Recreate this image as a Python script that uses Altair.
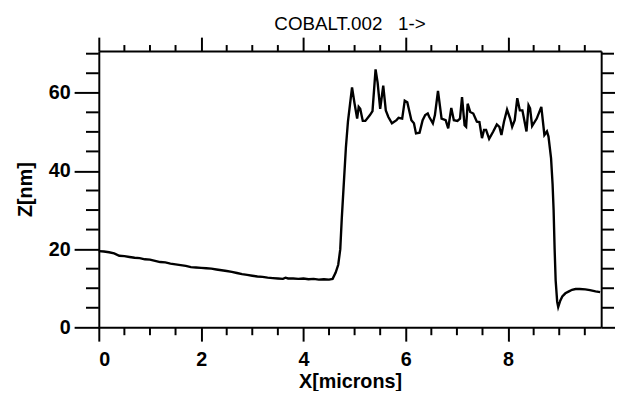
import altair as alt
import pandas as pd

# Profile
x_um = [0.00, 0.10, 0.20, 0.30, 0.40, 0.50, 0.60, 0.70, 0.80, 0.90,
        1.00, 1.10, 1.20, 1.30, 1.40, 1.50, 1.60, 1.70, 1.80, 1.90,
        2.00, 2.10, 2.20, 2.30, 2.40, 2.50, 2.60, 2.70, 2.80, 2.90,
        3.00, 3.10, 3.20, 3.30, 3.40, 3.50, 3.60, 3.65, 3.70, 3.80,
        3.90, 4.00, 4.10, 4.20, 4.30, 4.40, 4.50, 4.57, 4.63, 4.68,
        4.72, 4.75, 4.79, 4.83, 4.87, 4.91, 4.95, 5.00, 5.05, 5.08,
        5.11, 5.16, 5.21, 5.30, 5.35, 5.41, 5.45, 5.50, 5.56, 5.61,
        5.66, 5.73, 5.82, 5.86, 5.93, 5.98, 6.03, 6.11, 6.16, 6.20,
        6.27, 6.33, 6.38, 6.43, 6.46, 6.53, 6.57, 6.63, 6.70, 6.78,
        6.83, 6.89, 6.94, 7.01, 7.06, 7.10, 7.15, 7.18, 7.21, 7.26,
        7.32, 7.39, 7.44, 7.49, 7.53, 7.57, 7.63, 7.71, 7.78, 7.83,
        7.87, 7.92, 7.98, 8.04, 8.08, 8.13, 8.18, 8.23, 8.28, 8.36,
        8.40, 8.43, 8.47, 8.56, 8.65, 8.71, 8.76, 8.79, 8.84, 8.87,
        8.89, 8.91, 8.93, 8.96, 8.98, 9.02, 9.06, 9.12, 9.19, 9.25,
        9.32, 9.40, 9.51, 9.60, 9.71, 9.80]
z_nm = [19.5, 19.4, 19.2, 18.9, 18.3, 18.2, 18.0, 17.8, 17.7, 17.4,
        17.3, 17.0, 16.7, 16.6, 16.3, 16.1, 15.9, 15.7, 15.4, 15.3,
        15.2, 15.1, 15.0, 14.8, 14.6, 14.4, 14.2, 13.9, 13.6, 13.4,
        13.2, 13.0, 12.9, 12.7, 12.6, 12.5, 12.4, 12.7, 12.5, 12.5,
        12.4, 12.5, 12.3, 12.4, 12.2, 12.3, 12.2, 12.4, 14.0, 16.0,
        20.0, 28.0, 37.0, 46.0, 52.6, 57.0, 61.4, 57.2, 53.4, 56.4,
        55.9, 52.8, 52.8, 54.3, 55.3, 66.0, 62.6, 55.9, 61.8, 55.5,
        53.8, 52.2, 53.0, 53.6, 53.4, 58.0, 57.6, 53.0, 52.2, 49.6,
        49.8, 53.0, 54.3, 54.7, 53.8, 52.2, 54.3, 60.5, 53.4, 53.0,
        50.9, 56.1, 53.0, 52.8, 53.4, 58.9, 51.7, 51.3, 57.2, 55.1,
        54.7, 52.6, 52.5, 48.4, 50.5, 50.5, 48.2, 50.1, 51.9, 51.3,
        49.2, 52.6, 55.7, 53.4, 51.3, 53.0, 58.6, 55.5, 55.5, 50.1,
        56.8, 56.0, 51.5, 53.4, 56.4, 49.2, 50.1, 48.8, 43.3, 36.6,
        30.0, 20.0, 12.0, 6.5, 5.2, 6.8, 7.9, 8.7, 9.2, 9.6,
        9.8, 9.8, 9.7, 9.5, 9.2, 9.0]

x_major = [0, 2, 4, 6, 8]
x_minor = [0.5, 1.0, 1.5, 2.5, 3.0, 3.5, 4.5, 5.0, 5.5, 6.5, 7.0, 7.5, 8.5, 9.0, 9.5]
y_major = [0, 20, 40, 60]
y_minor = [5, 10, 15, 25, 30, 35, 45, 50, 55, 65, 70]

title_text = "COBALT.002\u00a0\u00a0\u00a01->"
x_title = "X[microns]"
y_title = "Z[nm]"

W, H = 509, 280
df = pd.DataFrame({"x": x_um, "z": z_nm})
xs = alt.Scale(domain=[0, 9.82], nice=False, zero=False)
ys = alt.Scale(domain=[0, 70.7], nice=False)

base = alt.Chart(df)

line_main = base.mark_line(color="black", strokeWidth=2.4).encode(
    x=alt.X("x:Q", scale=xs,
            axis=alt.Axis(orient="bottom", values=x_major, title=x_title,
                          tickSize=14, labelPadding=9, titlePadding=2)),
    y=alt.Y("z:Q", scale=ys,
            axis=alt.Axis(orient="left", values=y_major, title=y_title,
                          tickSize=25, labelPadding=4, titlePadding=13)),
)

line_frame = base.mark_line(opacity=0).encode(
    x=alt.X("x:Q", scale=xs,
            axis=alt.Axis(orient="top", values=x_major, labels=False,
                          title=None, tickSize=14)),
    y=alt.Y("z:Q", scale=ys,
            axis=alt.Axis(orient="right", values=y_major, labels=False,
                          title=None, tickSize=25)),
)

xm = pd.DataFrame({"v": x_minor})
ym = pd.DataFrame({"v": y_minor})

bottom_minor = alt.Chart(xm).mark_rule(color="black", strokeWidth=2).encode(
    x=alt.X("v:Q", scale=xs, axis=None), y=alt.value(H), y2=alt.value(H + 8))
top_minor = alt.Chart(xm).mark_rule(color="black", strokeWidth=2).encode(
    x=alt.X("v:Q", scale=xs, axis=None), y=alt.value(0), y2=alt.value(-6))
left_minor = alt.Chart(ym).mark_rule(color="black", strokeWidth=2).encode(
    y=alt.Y("v:Q", scale=ys, axis=None), x=alt.value(0), x2=alt.value(-13))
right_minor = alt.Chart(ym).mark_rule(color="black", strokeWidth=2).encode(
    y=alt.Y("v:Q", scale=ys, axis=None), x=alt.value(W), x2=alt.value(W + 13))

chart = alt.layer(
    line_main, line_frame, bottom_minor, top_minor, left_minor, right_minor
).resolve_axis(
    x="independent", y="independent"
).properties(
    width=W, height=H,
    background="white",
    padding={"left": 92, "top": 41, "right": 14, "bottom": 62},
    autosize=alt.AutoSizeParams(type="none"),
    title=alt.TitleParams(title_text, font="Liberation Sans", fontSize=19,
                          fontWeight="normal", anchor="middle", offset=2,
                          color="black"),
).configure_view(
    stroke=None
).configure_axis(
    grid=False,
    domainColor="black", domainWidth=2,
    tickColor="black", tickWidth=2,
    labelFont="Liberation Sans", labelFontSize=20, labelFontWeight="bold",
    labelColor="black",
    titleFont="Liberation Sans", titleFontSize=20, titleFontWeight="bold",
    titleColor="black",
)

chart.save("out.html", embed_options={"renderer": "svg", "actions": False})
